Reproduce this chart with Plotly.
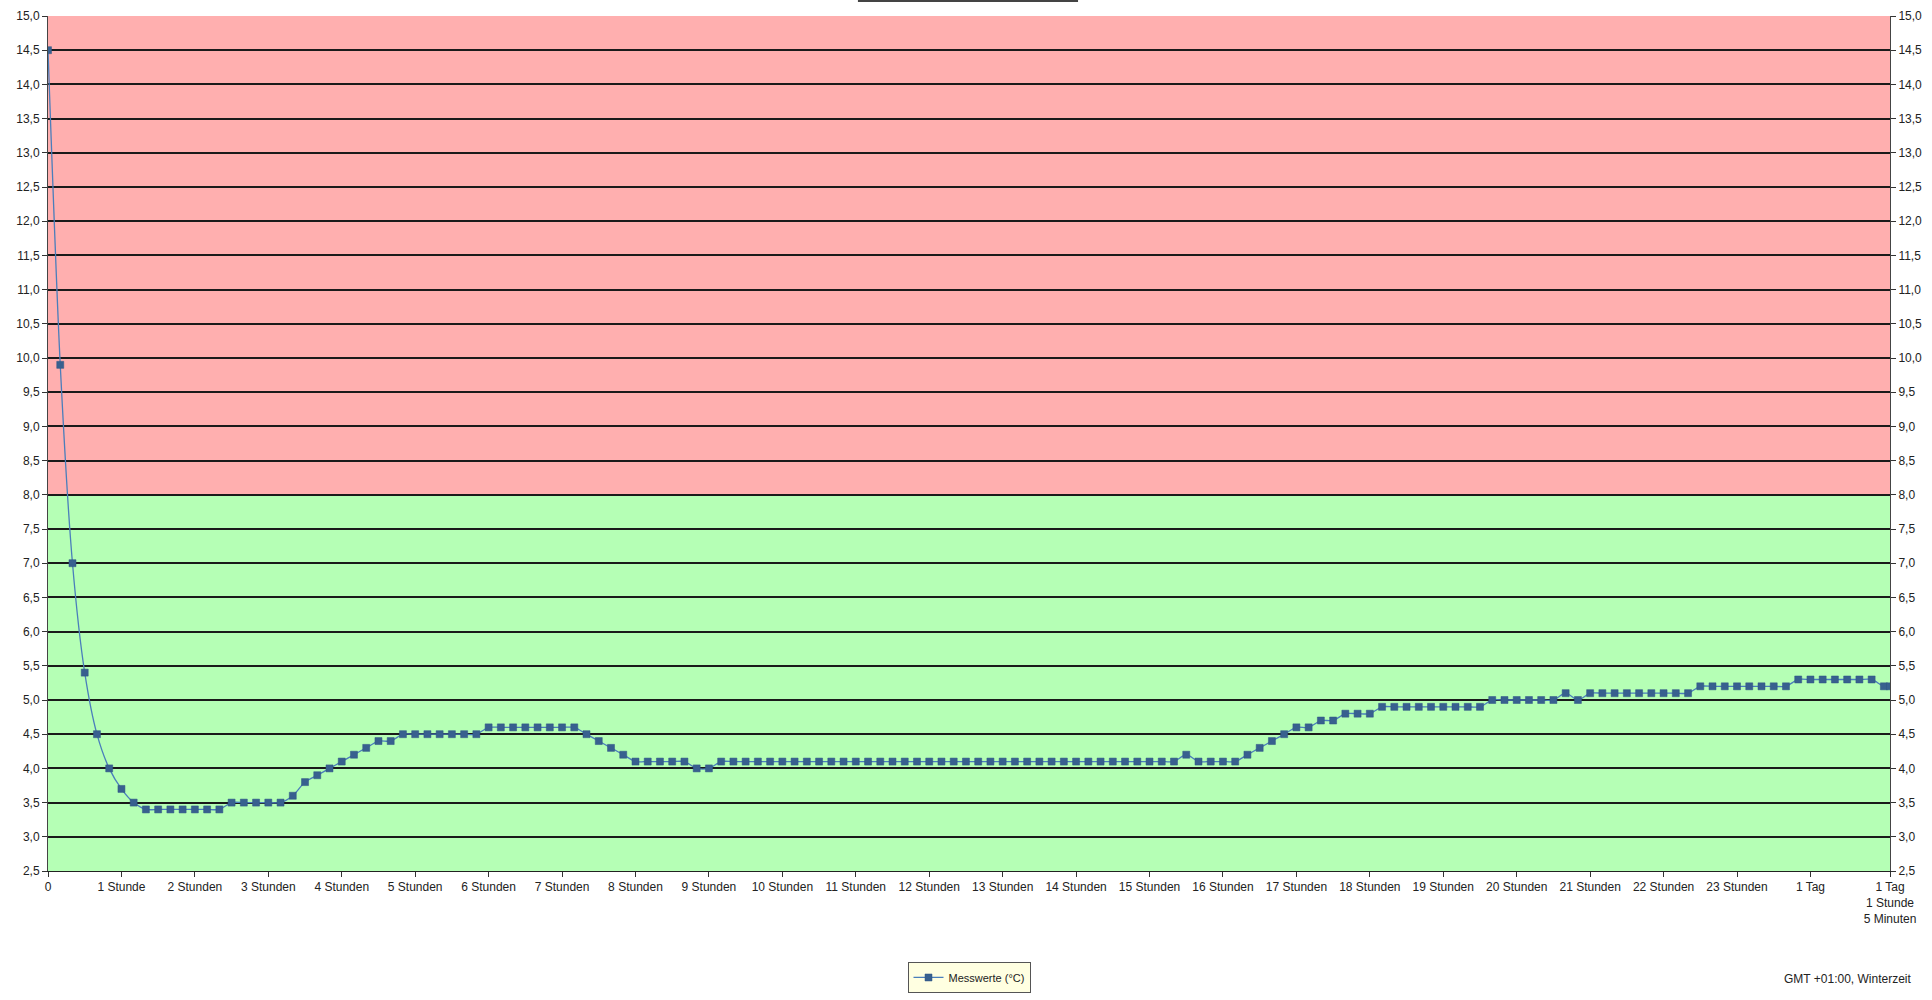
import plotly.graph_objects as go

# --- data ---------------------------------------------------------------
minutes = [0, 10, 20, 30, 40, 50, 60, 70, 80, 90, 100, 110, 120, 130, 140, 150, 160, 170, 180, 190,
           200, 210, 220, 230, 240, 250, 260, 270, 280, 290, 300, 310, 320, 330, 340, 350, 360, 370, 380, 390,
           400, 410, 420, 430, 440, 450, 460, 470, 480, 490, 500, 510, 520, 530, 540, 550, 560, 570, 580, 590,
           600, 610, 620, 630, 640, 650, 660, 670, 680, 690, 700, 710, 720, 730, 740, 750, 760, 770, 780, 790,
           800, 810, 820, 830, 840, 850, 860, 870, 880, 890, 900, 910, 920, 930, 940, 950, 960, 970, 980, 990,
           1000, 1010, 1020, 1030, 1040, 1050, 1060, 1070, 1080, 1090, 1100, 1110, 1120, 1130, 1140, 1150, 1160, 1170, 1180, 1190,
           1200, 1210, 1220, 1230, 1240, 1250, 1260, 1270, 1280, 1290, 1300, 1310, 1320, 1330, 1340, 1350, 1360, 1370, 1380, 1390,
           1400, 1410, 1420, 1430, 1440, 1450, 1460, 1470, 1480, 1490, 1500, 1505]

temps = [14.5, 9.9, 7.0, 5.4, 4.5, 4.0, 3.7, 3.5, 3.4, 3.4, 3.4, 3.4, 3.4, 3.4, 3.4, 3.5, 3.5, 3.5, 3.5, 3.5,
         3.6, 3.8, 3.9, 4.0, 4.1, 4.2, 4.3, 4.4, 4.4, 4.5, 4.5, 4.5, 4.5, 4.5, 4.5, 4.5, 4.6, 4.6, 4.6, 4.6,
         4.6, 4.6, 4.6, 4.6, 4.5, 4.4, 4.3, 4.2, 4.1, 4.1, 4.1, 4.1, 4.1, 4.0, 4.0, 4.1, 4.1, 4.1, 4.1, 4.1,
         4.1, 4.1, 4.1, 4.1, 4.1, 4.1, 4.1, 4.1, 4.1, 4.1, 4.1, 4.1, 4.1, 4.1, 4.1, 4.1, 4.1, 4.1, 4.1, 4.1,
         4.1, 4.1, 4.1, 4.1, 4.1, 4.1, 4.1, 4.1, 4.1, 4.1, 4.1, 4.1, 4.1, 4.2, 4.1, 4.1, 4.1, 4.1, 4.2, 4.3,
         4.4, 4.5, 4.6, 4.6, 4.7, 4.7, 4.8, 4.8, 4.8, 4.9, 4.9, 4.9, 4.9, 4.9, 4.9, 4.9, 4.9, 4.9, 5.0, 5.0,
         5.0, 5.0, 5.0, 5.0, 5.1, 5.0, 5.1, 5.1, 5.1, 5.1, 5.1, 5.1, 5.1, 5.1, 5.1, 5.2, 5.2, 5.2, 5.2, 5.2,
         5.2, 5.2, 5.2, 5.3, 5.3, 5.3, 5.3, 5.3, 5.3, 5.3, 5.2, 5.2]

x_tick_vals = [0, 60, 120, 180, 240, 300, 360, 420, 480, 540, 600, 660, 720, 780, 840, 900,
               960, 1020, 1080, 1140, 1200, 1260, 1320, 1380, 1440, 1505]
x_tick_text = ["0", "1 Stunde", "2 Stunden", "3 Stunden", "4 Stunden", "5 Stunden", "6 Stunden",
               "7 Stunden", "8 Stunden", "9 Stunden", "10 Stunden", "11 Stunden", "12 Stunden",
               "13 Stunden", "14 Stunden", "15 Stunden", "16 Stunden", "17 Stunden", "18 Stunden",
               "19 Stunden", "20 Stunden", "21 Stunden", "22 Stunden", "23 Stunden", "1 Tag",
               "1 Tag<br>1 Stunde<br>5 Minuten"]

y_min, y_limit, y_max = 2.5, 8.0, 15.0
series_name = "Messwerte (°C)"
footer_text = "GMT +01:00, Winterzeit"

# --- figure ---------------------------------------------------------------
FONT = "Liberation Sans, Arial, sans-serif"
FSIZE = 12

fig = go.Figure()
fig.add_trace(go.Scatter(
    x=minutes, y=temps, name=series_name, mode="lines+markers",
    line=dict(color="#4A7EBB", width=1.3, shape="spline", smoothing=0.8),
    marker=dict(symbol="square", size=7, color="#38608F",
                line=dict(color="#2F5584", width=0.5)),
))
# invisible copy to drive the right-hand axis
fig.add_trace(go.Scatter(
    x=minutes, y=temps, yaxis="y2", mode="lines", line=dict(width=0),
    showlegend=False, hoverinfo="skip",
))

# coloured bands
fig.add_shape(type="rect", xref="paper", yref="y", x0=0, x1=1, y0=y_min, y1=y_limit,
              fillcolor="#B5FFB5", line=dict(width=0), layer="below")
fig.add_shape(type="rect", xref="paper", yref="y", x0=0, x1=1, y0=y_limit, y1=y_max,
              fillcolor="#FFAFAF", line=dict(width=0), layer="below")
# underline of the (cut-off) title
fig.add_shape(type="line", xref="paper", yref="paper", x0=0.4397, x1=0.5592, y0=1.0175, y1=1.0175,
              line=dict(color="#444444", width=2))

y_ticks = [2.5 + 0.5 * i for i in range(26)]
yaxis_common = dict(
    range=[y_min, y_max], tickvals=y_ticks, tickformat=".1f",
    ticks="outside", ticklen=5, tickcolor="#333333",
    showline=True, linecolor="#444444", linewidth=1,
    tickfont=dict(family=FONT, size=FSIZE, color="#222222"),
    zeroline=False, automargin=False,
)

fig.update_layout(
    width=1932, height=1000,
    margin=dict(l=48, r=42, t=16, b=129, autoexpand=False),
    paper_bgcolor="white", plot_bgcolor="white",
    separators=",.",
    font=dict(family=FONT, size=FSIZE, color="#222222"),
    xaxis=dict(
        range=[0, 1505], tickvals=x_tick_vals, ticktext=x_tick_text,
        ticks="outside", ticklen=5, tickcolor="#333333",
        showline=True, linecolor="#222222", linewidth=1,
        showgrid=False, zeroline=False, automargin=False,
        tickfont=dict(family=FONT, size=FSIZE, color="#222222"),
    ),
    yaxis=dict(**yaxis_common, side="left", showgrid=True, gridcolor="#1a1a1a", gridwidth=2),
    yaxis2=dict(**yaxis_common, side="right", overlaying="y", showgrid=False),
    showlegend=True,
    legend=dict(
        orientation="h", x=0.5, xanchor="center", y=-0.1064, yanchor="top",
        bgcolor="#FFFFE1", bordercolor="#555555", borderwidth=1, itemwidth=30,
        font=dict(family=FONT, size=11, color="#222222"),
    ),
    annotations=[dict(
        text=footer_text, xref="paper", yref="paper", x=1.0125, y=-0.1263,
        xanchor="right", yanchor="middle", showarrow=False,
        font=dict(family=FONT, size=FSIZE, color="#222222"),
    )],
)

fig.write_html(
    "out.html",
    config={"displayModeBar": False},
    post_script="document.body.style.margin='0';document.body.style.overflow='hidden';",
)
